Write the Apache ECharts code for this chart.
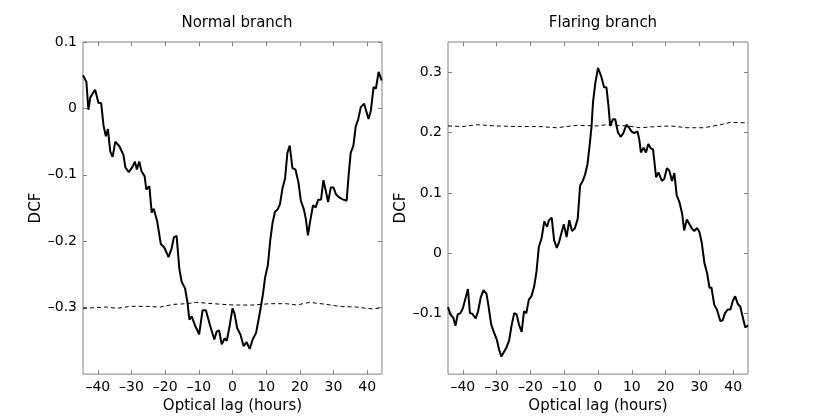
<!DOCTYPE html>
<html>
<head>
<meta charset="utf-8">
<script src="https://cdn.jsdelivr.net/npm/echarts@6/dist/echarts.min.js"></script>
<style>
    html, body { margin: 0; padding: 0; background: #fff; }
    #chart { width: 830px; height: 419px; }
</style>
</head>
<body>
<div id="chart"></div>
<script>
// Normal branch: DCF against optical lag
const normalLag = [-44.4, -43.4, -42.8, -42.2, -40.8, -39.8, -39.0, -38.3, -37.6, -37.0, -36.3, -35.6, -34.8, -33.6, -32.4, -31.8, -30.8, -29.7, -29.0, -28.4, -27.7, -27.0, -26.1, -25.6, -24.7, -24.0, -23.4, -22.4, -21.3, -20.3, -19.0, -18.1, -17.4, -16.6, -15.8, -15.1, -14.1, -13.4, -12.8, -12.1, -11.2, -9.9, -8.9, -7.9, -6.7, -5.4, -4.7, -4.0, -3.2, -2.3, -1.7, -0.8, 0.0, 0.6, 1.4, 2.4, 3.3, 4.2, 5.1, 6.0, 7.0, 8.0, 9.0, 9.7, 10.5, 11.2, 11.9, 12.6, 13.4, 14.1, 14.9, 15.6, 16.3, 17.0, 17.8, 18.7, 19.6, 20.3, 21.2, 21.8, 22.4, 23.1, 23.9, 24.7, 25.4, 26.3, 27.0, 27.7, 28.4, 29.2, 30.0, 30.7, 31.7, 32.7, 33.9, 34.5, 35.1, 35.9, 36.6, 37.3, 38.1, 39.1, 39.6, 40.4, 41.1, 41.9, 42.6, 43.4, 44.3]
const normalDcf = [0.050, 0.040, -0.002, 0.017, 0.028, 0.008, 0.008, -0.026, -0.042, -0.031, -0.065, -0.073, -0.050, -0.057, -0.070, -0.089, -0.096, -0.088, -0.080, -0.092, -0.080, -0.095, -0.102, -0.122, -0.117, -0.157, -0.151, -0.169, -0.204, -0.209, -0.224, -0.211, -0.194, -0.192, -0.241, -0.261, -0.271, -0.291, -0.318, -0.313, -0.326, -0.340, -0.304, -0.304, -0.326, -0.348, -0.336, -0.334, -0.355, -0.346, -0.350, -0.326, -0.301, -0.309, -0.331, -0.341, -0.358, -0.352, -0.362, -0.348, -0.338, -0.311, -0.281, -0.254, -0.236, -0.199, -0.172, -0.156, -0.152, -0.144, -0.119, -0.106, -0.067, -0.056, -0.090, -0.092, -0.112, -0.139, -0.152, -0.167, -0.191, -0.169, -0.146, -0.149, -0.138, -0.137, -0.108, -0.124, -0.141, -0.119, -0.119, -0.129, -0.134, -0.137, -0.139, -0.100, -0.067, -0.056, -0.027, -0.017, 0.002, 0.007, 0.007, -0.016, -0.003, 0.032, 0.030, 0.055, 0.042]
// Normal branch significance level (dashed)
const normalSigLag = [-44.4, -37.3, -34.4, -30.4, -25.5, -21.5, -17.6, -13.6, -10.7, -5.7, 0.2, 6.1, 11.1, 16.0, 19.0, 22.9, 27.9, 31.8, 36.7, 41.7, 44.4]
const normalSig = [-0.301, -0.299, -0.301, -0.298, -0.298, -0.299, -0.295, -0.294, -0.292, -0.294, -0.296, -0.296, -0.294, -0.294, -0.296, -0.292, -0.295, -0.298, -0.299, -0.302, -0.300]

// Flaring branch: DCF against optical lag
const flaringLag = [-44.4, -43.7, -42.8, -42.2, -41.5, -40.7, -40.0, -39.2, -38.5, -37.9, -37.2, -36.2, -35.5, -34.7, -33.9, -33.0, -32.5, -31.6, -30.8, -30.0, -29.3, -28.6, -27.8, -27.1, -26.3, -25.6, -24.8, -24.1, -23.4, -22.6, -21.9, -21.2, -20.5, -19.7, -18.9, -18.2, -17.5, -16.7, -15.9, -15.1, -14.5, -13.7, -13.0, -12.2, -11.5, -10.7, -10.1, -9.3, -8.5, -7.7, -6.9, -6.0, -5.3, -4.5, -3.8, -3.1, -2.4, -1.9, -1.5, -0.8, 0.0, 1.0, 1.8, 2.5, 3.1, 3.6, 4.4, 5.1, 5.9, 6.7, 7.5, 8.4, 9.2, 9.9, 10.7, 11.7, 12.2, 12.7, 13.5, 14.2, 14.9, 15.6, 16.3, 17.2, 17.9, 18.9, 19.6, 20.4, 21.1, 21.9, 22.6, 23.3, 24.1, 24.9, 25.5, 26.3, 27.0, 27.8, 28.5, 29.3, 30.0, 30.7, 31.5, 32.3, 33.0, 33.6, 34.4, 35.2, 36.2, 36.9, 37.6, 38.4, 39.2, 39.9, 40.6, 41.4, 42.1, 42.9, 43.6, 44.4]
const flaringDcf = [-0.089, -0.101, -0.107, -0.120, -0.101, -0.099, -0.091, -0.074, -0.059, -0.099, -0.100, -0.108, -0.096, -0.073, -0.061, -0.067, -0.084, -0.118, -0.131, -0.142, -0.159, -0.171, -0.163, -0.156, -0.144, -0.120, -0.099, -0.101, -0.118, -0.130, -0.096, -0.099, -0.077, -0.071, -0.055, -0.030, 0.011, 0.025, 0.053, 0.044, 0.055, 0.059, 0.022, 0.009, 0.019, 0.036, 0.048, 0.027, 0.055, 0.037, 0.041, 0.057, 0.112, 0.120, 0.131, 0.148, 0.183, 0.211, 0.249, 0.282, 0.307, 0.292, 0.275, 0.275, 0.244, 0.211, 0.222, 0.222, 0.200, 0.193, 0.199, 0.213, 0.208, 0.202, 0.199, 0.202, 0.189, 0.167, 0.175, 0.167, 0.181, 0.174, 0.172, 0.126, 0.134, 0.120, 0.123, 0.141, 0.137, 0.120, 0.133, 0.096, 0.085, 0.066, 0.038, 0.056, 0.049, 0.041, 0.037, 0.042, 0.036, 0.018, -0.016, -0.033, -0.057, -0.057, -0.085, -0.093, -0.112, -0.111, -0.099, -0.093, -0.093, -0.079, -0.071, -0.084, -0.088, -0.107, -0.123, -0.119]
// Flaring branch significance level (dashed)
const flaringSigLag = [-44.4, -40.0, -36.0, -30.1, -24.1, -17.2, -12.3, -6.3, -0.4, 2.6, 8.5, 12.5, 17.4, 21.4, 26.3, 31.3, 36.2, 39.2, 44.4]
const flaringSig = [0.211, 0.210, 0.213, 0.211, 0.210, 0.210, 0.208, 0.212, 0.211, 0.213, 0.211, 0.208, 0.210, 0.211, 0.208, 0.208, 0.213, 0.217, 0.216]

// 刻度
const lagTicks = [-40, -30, -20, -10, 0, 10, 20, 30, 40]
const normalTicks = [-0.3, -0.2, -0.1, 0, 0.1]
const flaringTicks = [-0.1, 0, 0.1, 0.2, 0.3]

const titles = ['Normal branch', 'Flaring branch']
const xName = 'Optical lag (hours)'
const yName = 'DCF'

const font = 'DejaVu Sans'
const axisGray = '#808080'

const pairs = (xs, ys) => xs.map((x, i) => [x, ys[i]])
const fmt = v => {
    const r = Math.round(v * 10) / 10
    return r < 0 ? '\u2013' + String(-r) : String(r)
}

const xAxisPair = (gridIndex) => [
    {
        gridIndex,
        type: 'value',
        position: 'bottom',
        min: -44.4,
        max: 44.4,
        name: xName,
        nameLocation: 'middle',
        nameGap: 17,
        nameTextStyle: { fontFamily: font, fontSize: 15, color: '#000' },
        axisLine: { show: false, onZero: false },
        axisTick: { inside: true, length: 4, customValues: lagTicks, lineStyle: { color: axisGray } },
        axisLabel: { customValues: lagTicks, formatter: fmt, margin: 6, fontFamily: font, fontSize: 14, color: '#000' },
        splitLine: { show: false }
    },
    {
        gridIndex,
        type: 'value',
        position: 'top',
        min: -44.4,
        max: 44.4,
        axisLine: { show: false, onZero: false },
        axisTick: { inside: true, length: 4, customValues: lagTicks, lineStyle: { color: axisGray } },
        axisLabel: { show: false },
        splitLine: { show: false }
    }
]

const yAxisPair = (gridIndex, min, max, ticks, gap) => [
    {
        gridIndex,
        type: 'value',
        position: 'left',
        min,
        max,
        name: yName,
        nameLocation: 'middle',
        nameGap: gap,
        nameTextStyle: { fontFamily: font, fontSize: 15, color: '#000' },
        axisLine: { show: false, onZero: false },
        axisTick: { inside: true, length: 4, customValues: ticks, lineStyle: { color: axisGray } },
        axisLabel: { customValues: ticks, formatter: fmt, margin: 6, fontFamily: font, fontSize: 14, color: '#000' },
        splitLine: { show: false }
    },
    {
        gridIndex,
        type: 'value',
        position: 'right',
        min,
        max,
        axisLine: { show: false, onZero: false },
        axisTick: { inside: true, length: 4, customValues: ticks, lineStyle: { color: axisGray } },
        axisLabel: { show: false },
        splitLine: { show: false }
    }
]

const solidLine = (idx, data) => ({
    type: 'line',
    xAxisIndex: idx * 2,
    yAxisIndex: idx * 2,
    data,
    showSymbol: false,
    lineStyle: { color: '#000', width: 2 },
    z: 3
})

const dashedLine = (idx, data) => ({
    type: 'line',
    xAxisIndex: idx * 2,
    yAxisIndex: idx * 2,
    data,
    showSymbol: false,
    lineStyle: { color: '#000', width: 1, type: [4, 3] },
    z: 2
})

const initChart = () => {
    const chart = echarts.init(document.getElementById('chart'), null, { renderer: 'canvas' })
    const option = {
        animation: false,
        backgroundColor: '#fff',
        title: [
            { text: titles[0], left: 232, top: 11, textAlign: 'center', textStyle: { fontFamily: font, fontSize: 15, fontWeight: 'normal', color: '#000' } },
            { text: titles[1], left: 598, top: 11, textAlign: 'center', textStyle: { fontFamily: font, fontSize: 15, fontWeight: 'normal', color: '#000' } }
        ],
        grid: [
            { left: 83, top: 42, width: 299, height: 334, show: true, borderColor: axisGray, borderWidth: 1 },
            { left: 448, top: 42, width: 300, height: 334, show: true, borderColor: axisGray, borderWidth: 1 }
        ],
        xAxis: [...xAxisPair(0), ...xAxisPair(1)],
        yAxis: [
            ...yAxisPair(0, -0.4, 0.1, normalTicks, 39),
            ...yAxisPair(1, -0.2, 0.35, flaringTicks, 37)
        ],
        series: [
            dashedLine(0, pairs(normalSigLag, normalSig)),
            solidLine(0, pairs(normalLag, normalDcf)),
            dashedLine(1, pairs(flaringSigLag, flaringSig)),
            solidLine(1, pairs(flaringLag, flaringDcf))
        ]
    }
    chart.setOption(option)
}

initChart()
</script>
</body>
</html>
